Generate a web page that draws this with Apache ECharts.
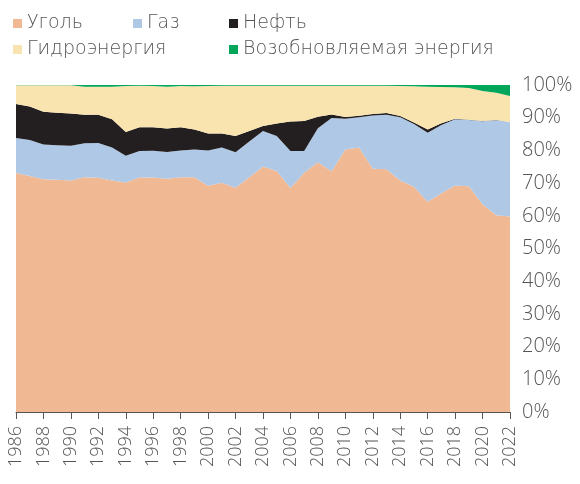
<!DOCTYPE html>
<html>
<head>
<meta charset="utf-8">
<script src="https://cdn.jsdelivr.net/npm/echarts@6/dist/echarts.min.js"></script>
<style>
  html, body { margin: 0; padding: 0; background: #fff; }
  #main { width: 580px; height: 484px; }
</style>
</head>
<body>
<div id="main"></div>
<script>
// годы
const years = ['1986', '1987', '1988', '1989', '1990', '1991', '1992', '1993', '1994', '1995',
  '1996', '1997', '1998', '1999', '2000', '2001', '2002', '2003', '2004', '2005',
  '2006', '2007', '2008', '2009', '2010', '2011', '2012', '2013', '2014', '2015',
  '2016', '2017', '2018', '2019', '2020', '2021', '2022'];

// доли, %
const coal = [73.1, 72.2, 71.2, 71.0, 70.8, 71.8, 71.6, 70.8, 70.2, 71.7,
  71.7, 71.3, 71.8, 71.8, 69.2, 70.1, 68.6, 71.8, 75.1, 73.7,
  68.5, 73.2, 76.4, 73.6, 80.3, 80.9, 74.4, 74.2, 70.8, 68.9,
  64.3, 66.9, 69.3, 69.0, 63.5, 60.2, 59.8];
const gas = [10.7, 11.0, 10.6, 10.6, 10.6, 10.4, 10.7, 10.1, 8.2, 8.1,
  8.2, 8.2, 8.2, 8.5, 10.8, 10.8, 10.8, 10.9, 10.8, 10.7,
  11.3, 6.6, 10.4, 16.3, 9.4, 9.2, 16.3, 16.7, 19.3, 19.2,
  21.1, 20.9, 20.2, 20.3, 25.4, 29.0, 28.8];
const oil = [10.4, 10.2, 10.0, 9.9, 9.9, 8.7, 8.6, 8.6, 7.2, 7.3,
  7.2, 7.2, 7.1, 6.1, 5.2, 4.3, 5.0, 3.2, 1.6, 3.8,
  9.0, 9.2, 3.5, 1.1, 0.5, 0.5, 0.4, 0.5, 0.4, 0.4,
  1.0, 0.5, 0.2, 0.1, 0.1, 0.1, 0.1];
const hydro = [5.7, 6.5, 8.1, 8.4, 8.6, 8.6, 8.6, 10.0, 14.1, 12.7,
  12.6, 12.8, 12.6, 13.2, 14.5, 14.6, 15.4, 13.9, 12.3, 11.6,
  11.0, 10.8, 9.5, 8.8, 9.6, 9.2, 8.7, 8.4, 9.2, 11.1,
  13.1, 11.1, 9.6, 9.7, 9.2, 8.3, 7.9];
const renew = [0.1, 0.1, 0.1, 0.1, 0.1, 0.5, 0.5, 0.5, 0.3, 0.2,
  0.3, 0.5, 0.3, 0.4, 0.3, 0.2, 0.2, 0.2, 0.2, 0.2,
  0.2, 0.2, 0.2, 0.2, 0.2, 0.2, 0.2, 0.2, 0.3, 0.4,
  0.5, 0.6, 0.7, 0.9, 1.8, 2.4, 3.4];

const names = ['Уголь', 'Газ', 'Нефть', 'Гидроэнергия', 'Возобновляемая энергия'];
const colors = ['#F0B994', '#AEC8E6', '#231F20', '#F9E3AE', '#00A65A'];
const values = [coal, gas, oil, hydro, renew];

const font = '"Open Sans", Lato, sans-serif';
const legendFont = '"DejaVu Sans", "Open Sans", sans-serif';
const textColor = '#555';

// легенда: позиции как на картинке
const legendPos = [[8, 9], [128, 9], [224, 9], [8, 35], [224, 35]];

const myChart = echarts.init(document.getElementById('main'));
const option = {
  animation: false,
  color: colors,
  legend: names.map((n, i) => ({
    data: [n],
    left: legendPos[i][0],
    top: legendPos[i][1],
    icon: 'rect',
    itemWidth: 9,
    itemHeight: 9,
    itemGap: 0,
    textStyle: { color: textColor, fontSize: 19, fontFamily: legendFont, fontWeight: 200 }
  })),
  grid: { left: 16, right: 70, top: 85, bottom: 72 },
  xAxis: {
    type: 'category',
    boundaryGap: false,
    data: years,
    axisLine: { lineStyle: { color: '#555' } },
    axisTick: { interval: 1, length: 7, lineStyle: { color: '#555' } },
    axisLabel: {
      interval: 1,
      rotate: 90,
      margin: 14,
      color: textColor,
      fontSize: 18,
      fontFamily: font,
      fontWeight: 300
    }
  },
  yAxis: {
    type: 'value',
    position: 'right',
    min: 0,
    max: 100,
    interval: 10,
    splitLine: { show: false },
    axisLine: { show: false },
    axisTick: { show: false },
    axisLabel: {
      formatter: '{value}%',
      margin: 12,
      color: textColor,
      fontSize: 20,
      fontFamily: font,
      fontWeight: 300
    }
  },
  series: names.map((n, i) => ({
    name: n,
    type: 'line',
    stack: 'total',
    symbol: 'none',
    lineStyle: { width: 0 },
    areaStyle: { color: colors[i], opacity: 1 },
    data: values[i]
  }))
};
myChart.setOption(option);
</script>
</body>
</html>
